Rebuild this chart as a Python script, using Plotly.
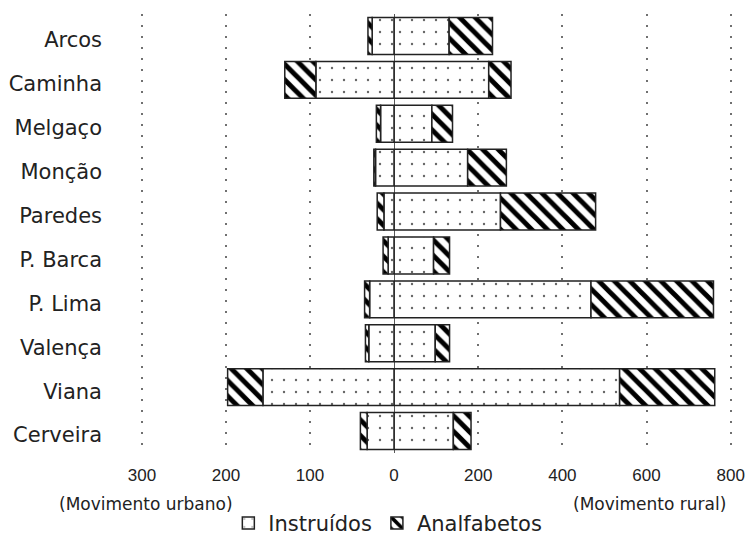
import plotly.graph_objects as go

categories = ["Arcos", "Caminha", "Melgaço", "Monção", "Paredes",
              "P. Barca", "P. Lima", "Valença", "Viana", "Cerveira"]
urbano_instruidos = [26, 93, 16, 22, 12, 7, 29, 30, 156, 32]
urbano_analfabetos = [5, 37, 5, 2, 8, 6, 6, 4, 42, 8]
rural_instruidos = [131, 225, 90, 175, 253, 94, 468, 98, 536, 141]
rural_analfabetos = [103, 53, 49, 92, 226, 38, 291, 34, 226, 42]

left_ticks = [-300, -200, -100, 0]
left_ticktext = ["300", "200", "100", "0"]
right_ticks = [200, 400, 600, 800]
right_ticktext = ["200", "400", "600", "800"]

FONT = "DejaVu Sans"
TICKFONT = "Liberation Sans, Arial, sans-serif"
line = dict(color="#222222", width=1.5)
dots = dict(shape=".", size=12, solidity=0.03, fgcolor="#666666", bgcolor="white",
            fgopacity=1)
hatch = dict(shape="\\", size=11, solidity=0.45, fgcolor="#000000", bgcolor="white",
             fgopacity=1)

fig = go.Figure()
fig.add_trace(go.Bar(y=categories, x=[-v for v in urbano_instruidos], orientation="h",
                     xaxis="x", yaxis="y", name="Instruídos", legendgroup="i",
                     showlegend=False, marker=dict(color="white", line=line, pattern=dots)))
fig.add_trace(go.Bar(y=categories, x=[-v for v in urbano_analfabetos], orientation="h",
                     xaxis="x", yaxis="y", name="Analfabetos", legendgroup="a",
                     showlegend=False, marker=dict(color="white", line=line, pattern=hatch)))
fig.add_trace(go.Bar(y=categories, x=rural_instruidos, orientation="h",
                     xaxis="x2", yaxis="y", name="Instruídos", legendgroup="i",
                     marker=dict(color="white", line=line, pattern=dots)))
fig.add_trace(go.Bar(y=categories, x=rural_analfabetos, orientation="h",
                     xaxis="x2", yaxis="y", name="Analfabetos", legendgroup="a",
                     marker=dict(color="white", line=line, pattern=hatch)))

split = 284 / 630
grid = dict(showgrid=True, gridcolor="#707070", gridwidth=1.5, griddash="2px,9px",
            zeroline=False, showline=False, ticks="", automargin=False,
            ticklabelstandoff=10, ticklabeloverflow="allow",
            tickfont=dict(family=TICKFONT, size=17, color="#222"))
fig.update_layout(
    width=745, height=540,
    margin=dict(l=110, r=5, t=13.5, b=86.5, autoexpand=False),
    paper_bgcolor="white", plot_bgcolor="white",
    barmode="relative", bargap=0.16,
    font=dict(family=FONT, color="#222"),
    xaxis=dict(domain=[0, split], range=[-338, 0], tickvals=left_ticks,
               ticktext=left_ticktext, anchor="y", **grid),
    xaxis2=dict(domain=[split, 1], range=[0, 822], tickvals=right_ticks,
                ticktext=right_ticktext, anchor="y", **grid),
    yaxis=dict(categoryorder="array", categoryarray=categories,
               range=[9.5, -0.5], showgrid=False, zeroline=False, ticks="",
               automargin=False, ticklabelstandoff=7, ticklabelshift=-4,
               tickfont=dict(family=FONT, size=21, color="#222"), anchor="x"),
    legend=dict(orientation="h", x=0.441, y=-0.16, xanchor="center", yanchor="middle",
                font=dict(family=FONT, size=21, color="#222"), itemwidth=30,
                tracegroupgap=0, bgcolor="rgba(0,0,0,0)"),
    showlegend=True,
)
fig.add_shape(type="line", xref="x2", yref="paper", x0=0, x1=0, y0=0, y1=1,
              line=dict(color="#222", width=1.5), layer="above")
fig.add_annotation(text="(Movimento urbano)", xref="paper", yref="paper",
                   x=0.0571, y=-0.117, xanchor="center", yanchor="middle",
                   showarrow=False, font=dict(family=FONT, size=17, color="#222"))
fig.add_annotation(text="(Movimento rural)", xref="paper", yref="paper",
                   x=0.857, y=-0.117, xanchor="center", yanchor="middle",
                   showarrow=False, font=dict(family=FONT, size=17, color="#222"))

# remove the browser's default 8px page margin so the figure fills the window
fig.write_html("out.html", config={"displayModeBar": False},
               post_script="document.body.style.margin='0';document.body.style.overflow='hidden';")
